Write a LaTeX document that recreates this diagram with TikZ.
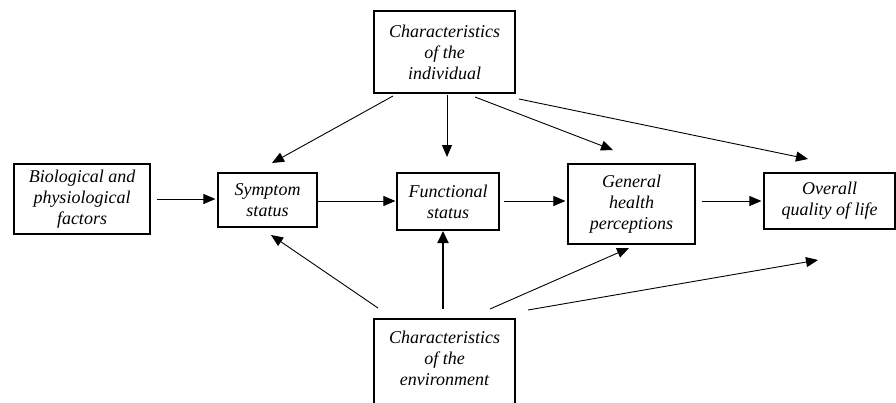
\documentclass[tikz,border=0pt]{standalone}
\usepackage{fontspec}
\setmainfont{Liberation Serif}
\usetikzlibrary{arrows.meta}
\begin{document}
\begin{tikzpicture}[x=1pt,y=-1pt,
  box/.style={draw=black, line width=1.2pt, align=center, inner sep=0pt,
    font=\fontsize{18}{21}\selectfont\itshape},
  link/.style={line width=0.9pt, -{Triangle[length=12pt,width=10pt]}},
  thicklink/.style={line width=2pt, -{Triangle[length=12pt,width=11pt]}}]
\useasboundingbox (0,0) rectangle (896,402);
\clip (0,0) rectangle (896,402);
\fill[white] (0,0) rectangle (896,402);

\node[box, minimum width=136pt, minimum height=70pt] (bio) at (82,199) {Biological and\\physiological\\factors};
\node[box, minimum width=99pt, minimum height=54pt] (sym) at (267.5,200) {Symptom\\status};
\node[box, minimum width=102pt, minimum height=57pt] (fun) at (448,201.5) {Functional\\status};
\node[box, minimum width=127pt, minimum height=80pt] (gen) at (631.5,204) {General\\health\\perceptions};
\node[box, minimum width=131pt, minimum height=56pt] (ove) at (829.5,201) {Overall\\quality of life};
\node[box, minimum width=141pt, minimum height=82pt] (ind) at (444.5,52) {Characteristics\\of the\\individual};
\node[box, line width=1.4pt, minimum width=141pt, minimum height=100pt] (env) at (444.5,369) {Characteristics\\of the\\environment\\\mbox{}};

\draw[link, shorten <=6pt, shorten >=2pt] (bio.east) -- (bio.east -| sym.west);
\draw[link, shorten >=1pt] (sym.east |- 0,201) -- (fun.west |- 0,201);
\draw[link, shorten <=4pt, shorten >=2pt] (fun.east |- 0,201) -- (gen.west |- 0,201);
\draw[link, shorten <=6pt, shorten >=2pt] (gen.east |- 0,201) -- (ove.west |- 0,201);

\coordinate (i1) at (393,96);  \coordinate (t1) at (272,163);
\coordinate (i2) at (447,95);  \coordinate (t2) at (447,157);
\coordinate (i3) at (475,97);  \coordinate (t3) at (613,150);
\coordinate (i4) at (519,99);  \coordinate (t4) at (808,159);
\coordinate (e1) at (378,308); \coordinate (u1) at (271,235);
\coordinate (e2) at (443,309); \coordinate (u2) at (443,231);
\coordinate (e3) at (490,309); \coordinate (u3) at (629,248);
\coordinate (e4) at (528,310); \coordinate (u4) at (818,260);

\draw[link] (i1) -- (t1);
\draw[link] (i2) -- (t2);
\draw[link] (i3) -- (t3);
\draw[link] (i4) -- (t4);
\draw[link] (e1) -- (u1);
\draw[thicklink] (e2) -- (u2);
\draw[link] (e3) -- (u3);
\draw[link] (e4) -- (u4);
\end{tikzpicture}
\end{document}
